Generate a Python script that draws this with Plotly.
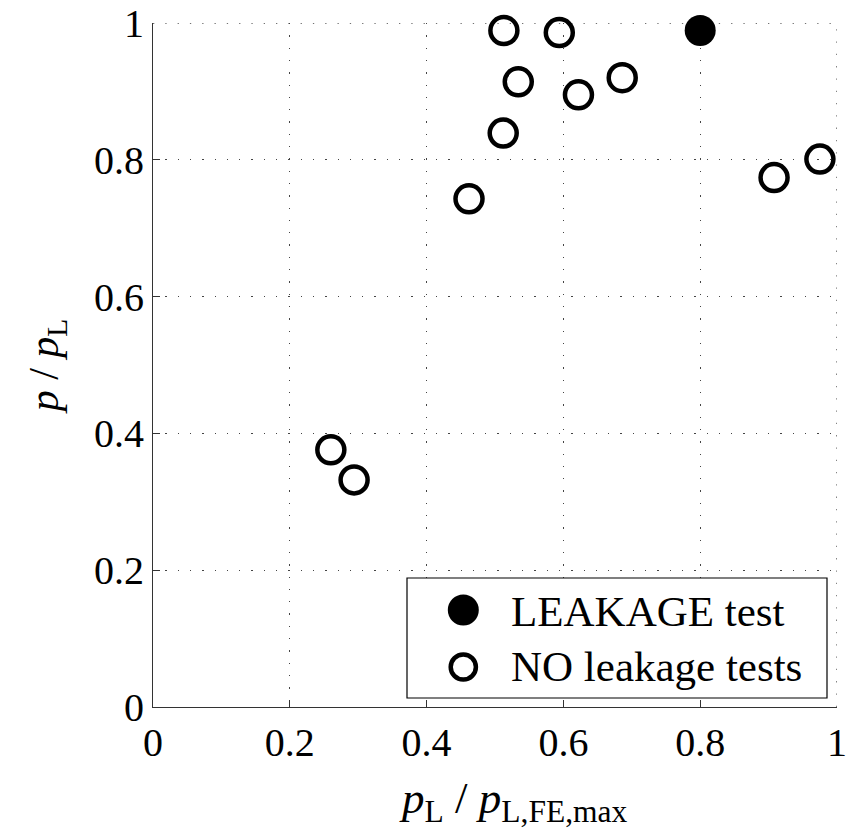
import plotly.graph_objects as go

# Data
leak_x = [0.800]
leak_y = [0.989]

noleak_x = [0.513, 0.594, 0.534, 0.622, 0.686, 0.512, 0.462, 0.908, 0.975, 0.260, 0.294]
noleak_y = [0.989, 0.986, 0.914, 0.895, 0.920, 0.839, 0.743, 0.774, 0.801, 0.376, 0.332]

tick_vals = [0, 0.2, 0.4, 0.6, 0.8, 1]
tick_text = ["0", "0.2", "0.4", "0.6", "0.8", "1"]

legend_labels = ["LEAKAGE test", "NO leakage tests"]
x_title = "<i>p</i><sub>L</sub> / <i>p</i><sub>L,FE,max</sub>"
y_title = "<i>p</i> / <i>p</i><sub>L</sub>"

FONT = "Liberation Serif, Times New Roman, serif"

W, H = 847, 830
ML, MR, MT, MB = 153, 10, 23, 123
PW, PH = W - ML - MR, H - MT - MB


def px2x(px):
    return (px - ML) / PW


def px2y(py):
    return (H - MB - py) / PH


fig = go.Figure()
fig.add_trace(go.Scatter(
    x=leak_x, y=leak_y, mode="markers", name=legend_labels[0],
    marker=dict(symbol="circle", size=31, color="black", line=dict(width=0)),
    cliponaxis=False, showlegend=False,
))
fig.add_trace(go.Scatter(
    x=noleak_x, y=noleak_y, mode="markers", name=legend_labels[1],
    marker=dict(symbol="circle-open", size=27, color="black", line=dict(width=4.5, color="black")),
    cliponaxis=False, showlegend=False,
))

GRID = dict(color="#444444", width=1.3, dash="1.3px,11px")

axis_common = dict(
    range=[0, 1], tickvals=tick_vals, ticktext=tick_text,
    showline=True, linecolor="#333333", linewidth=1.2, mirror=False,
    ticks="inside", ticklen=7, tickcolor="#333333", tickwidth=1,
    showgrid=True, gridcolor=GRID["color"], gridwidth=GRID["width"], griddash=GRID["dash"],
    zeroline=False, tickfont=dict(family=FONT, size=40, color="black"),
    fixedrange=True, automargin=False, ticklabeloverflow="allow",
)

shapes = [
    # grid lines at the far edges (plotly omits grid at range ends)
    dict(type="line", xref="x", yref="paper", x0=1, x1=1, y0=0, y1=1,
         line=dict(color=GRID["color"], width=GRID["width"], dash=GRID["dash"]), layer="below"),
    dict(type="line", xref="paper", yref="y", x0=0, x1=1, y0=1, y1=1,
         line=dict(color=GRID["color"], width=GRID["width"], dash=GRID["dash"]), layer="below"),
    # legend box
    dict(type="rect", xref="paper", yref="paper",
         x0=px2x(407), x1=px2x(827), y0=px2y(698), y1=px2y(578),
         fillcolor="white", line=dict(color="black", width=1.2), layer="above"),
    # legend symbols
    dict(type="circle", xref="paper", yref="paper",
         x0=px2x(463.3 - 15.5), x1=px2x(463.3 + 15.5), y0=px2y(610 + 15.5), y1=px2y(610 - 15.5),
         fillcolor="black", line=dict(color="black", width=0), layer="above"),
    dict(type="circle", xref="paper", yref="paper",
         x0=px2x(463.3 - 12.6), x1=px2x(463.3 + 12.6), y0=px2y(667 + 12.6), y1=px2y(667 - 12.6),
         fillcolor="rgba(0,0,0,0)", line=dict(color="black", width=4.5), layer="above"),
]

annotations = [
    dict(text=legend_labels[0], xref="paper", yref="paper", x=px2x(509), y=px2y(611),
         xanchor="left", yanchor="middle", showarrow=False,
         font=dict(family=FONT, size=43, color="black")),
    dict(text=legend_labels[1], xref="paper", yref="paper", x=px2x(509), y=px2y(666),
         xanchor="left", yanchor="middle", showarrow=False,
         font=dict(family=FONT, size=43, color="black")),
    # x-axis title (placed as in the reference, slightly right of centre)
    dict(text=x_title, xref="paper", yref="paper", x=px2x(513), y=px2y(801),
         xanchor="center", yanchor="middle", showarrow=False,
         font=dict(family=FONT, size=45, color="black")),
]

fig.update_layout(
    width=W, height=H,
    margin=dict(l=ML, r=MR, t=MT, b=MB, autoexpand=False),
    paper_bgcolor="white", plot_bgcolor="white",
    font=dict(family=FONT, color="black"),
    xaxis=dict(**axis_common),
    yaxis=dict(**axis_common,
               title=dict(text=y_title, font=dict(family=FONT, size=42), standoff=22)),
    shapes=shapes,
    annotations=annotations,
    showlegend=False,
)

fig.write_html("out.html")
